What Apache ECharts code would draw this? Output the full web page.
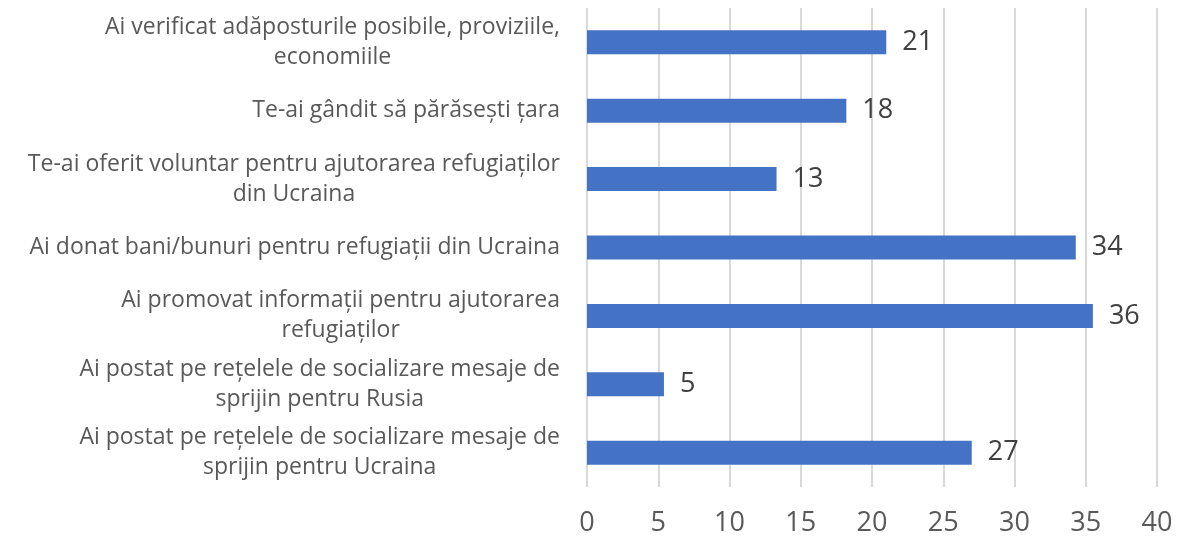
<!DOCTYPE html>
<html lang="ro">
<head>
<meta charset="UTF-8">
<title>Acțiuni</title>
<script src="https://cdn.jsdelivr.net/npm/echarts@6/dist/echarts.min.js"></script>
<style>
  html, body { margin: 0; padding: 0; background: #fff; }
  #main { width: 1179px; height: 540px; }
</style>
</head>
<body>
<div id="main"></div>
<script type="text/javascript">
// categorii, de sus in jos (cu ruperea de rand ca in original)
var categorii = [
  'Ai verificat adăposturile posibile, proviziile,\neconomiile',
  'Te-ai gândit să părăsești țara',
  'Te-ai oferit voluntar pentru ajutorarea refugiaților\ndin Ucraina',
  'Ai donat bani/bunuri pentru refugiații din Ucraina',
  'Ai promovat informații pentru ajutorarea\nrefugiaților',
  'Ai postat pe rețelele de socializare mesaje de\nsprijin pentru Rusia',
  'Ai postat pe rețelele de socializare mesaje de\nsprijin pentru Ucraina'
];
// valori citite din lungimea barelor (etichetele sunt rotunjite)
var valori = [21.0, 18.2, 13.3, 34.3, 35.5, 5.4, 27.0];
var axaX = [0, 5, 10, 15, 20, 25, 30, 35, 40];

var fontul = '"Open Sans", "Noto Sans", sans-serif';

var myChart = echarts.init(document.getElementById('main'));
var option = {
  animation: false,
  grid: { left: 587, right: 22, top: 8, bottom: 53, containLabel: false },
  xAxis: {
    type: 'value',
    min: axaX[0],
    max: axaX[axaX.length - 1],
    interval: 5,
    axisLine: { show: false },
    axisTick: { show: false },
    splitLine: { show: true, lineStyle: { color: '#d9d9d9', width: 2 } },
    axisLabel: {
      color: '#595959',
      fontFamily: fontul,
      fontSize: 27,
      margin: 23
    }
  },
  yAxis: {
    type: 'category',
    inverse: true,
    data: categorii,
    axisLine: { show: false },
    axisTick: { show: false },
    axisLabel: {
      margin: 27,
      formatter: function (v) {
        // fiecare rand centrat in interiorul blocului aliniat la dreapta
        return v.split('\n').map(function (r) { return '{c|' + r + '}'; }).join('\n');
      },
      rich: {
        c: {
          align: 'center',
          color: '#595959',
          fontFamily: fontul,
          fontSize: 23,
          lineHeight: 30
        }
      }
    }
  },
  series: [{
    type: 'bar',
    data: valori,
    barWidth: 24,
    itemStyle: { color: '#4472C4' },
    label: {
      show: true,
      position: 'right',
      distance: 16,
      color: '#404040',
      fontFamily: fontul,
      fontSize: 27,
      formatter: function (p) { return Math.round(p.value); }
    }
  }]
};
myChart.setOption(option);
</script>
</body>
</html>
